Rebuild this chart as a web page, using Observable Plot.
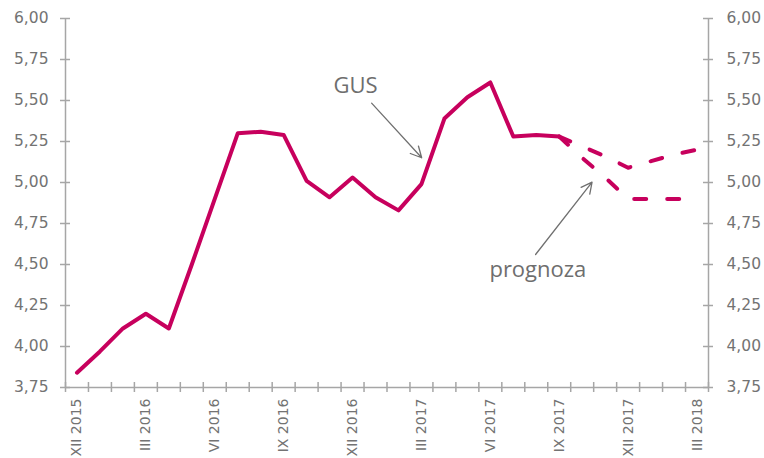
<!DOCTYPE html>
<html>
<head>
<meta charset="utf-8">
<script src="https://cdn.jsdelivr.net/npm/d3@7"></script>
<script src="https://cdn.jsdelivr.net/npm/@observablehq/plot@0.6"></script>
<style>
  html, body { margin: 0; padding: 0; background: #ffffff; }
</style>
</head>
<body>
<div id="chart"></div>
<script>
// Month labels (Dec 2015 .. Mar 2018)
const months = [
  "XII 2015","I 2016","II 2016","III 2016","IV 2016","V 2016","VI 2016","VII 2016","VIII 2016","IX 2016",
  "X 2016","XI 2016","XII 2016","I 2017","II 2017","III 2017","IV 2017","V 2017","VI 2017","VII 2017",
  "VIII 2017","IX 2017","X 2017","XI 2017","XII 2017","I 2018","II 2018","III 2018"
];
// Labelled months (every third)
const labelMonths = ["XII 2015","III 2016","VI 2016","IX 2016","XII 2016","III 2017","VI 2017","IX 2017","XII 2017","III 2018"];

// GUS actual values, XII 2015 .. IX 2017
const gusValues = [3.84,3.97,4.11,4.20,4.11,4.50,4.90,5.30,5.31,5.29,5.01,4.91,5.03,4.91,4.83,4.99,5.39,5.52,5.61,5.28,5.29,5.28];
// Forecasts, IX 2017 .. III 2018
const forecastMonths = ["IX 2017","X 2017","XI 2017","XII 2017","I 2018","II 2018","III 2018"];
const forecastHigh = [5.28,5.22,5.16,5.09,5.13,5.17,5.20];
const forecastLow  = [5.28,5.15,5.03,4.90,4.90,4.90,4.90];

// Y tick values
const yTicks = [3.75,4.00,4.25,4.50,4.75,5.00,5.25,5.50,5.75,6.00];

// Annotations (month index, value)
const gusLabel = {x: 12.13, y: 5.59, text: "GUS"};
const gusArrow = {x1: 12.83, y1: 5.484, x2: 15.01, y2: 5.151};
const progLabel = {x: 20.07, y: 4.465, text: "prognoza"};
const progArrow = {x1: 19.97, y1: 4.561, x2: 22.43, y2: 5.002};

const idx = m => months.indexOf(m);
const gus = gusValues.map((v, i) => ({i, v}));
const high = forecastHigh.map((v, k) => ({i: idx(forecastMonths[k]), v}));
const low = forecastLow.map((v, k) => ({i: idx(forecastMonths[k]), v}));
const boundaries = d3.range(months.length + 1).map(k => k - 0.5);
const xMin = -0.5, xMax = months.length - 0.5;
const yMin = 3.75, yMax = 6.0;

const width = 764, height = 458;
const marginLeft = 65, marginRight = 56, marginTop = 18, marginBottom = 71;
const pxX = (xMax - xMin) / (width - marginLeft - marginRight);
const pxY = (yMax - yMin) / (height - marginTop - marginBottom);
const tick = 5;

const axisColor = "#a6a6a6";
const textColor = "#737373";
const lineColor = "#c7005d";
const fmt = d => d.toFixed(2).replace(".", ",");

const chart = Plot.plot({
  width, height, marginLeft, marginRight, marginTop, marginBottom,
  x: {domain: [xMin, xMax]},
  y: {domain: [yMin, yMax]},
  style: {fontFamily: "DejaVu Sans", background: "#ffffff", color: textColor},
  marks: [
    Plot.axisY({anchor: "left", ticks: yTicks, tickSize: 0, tickPadding: 17, tickFormat: fmt, fontSize: 15.5, fill: textColor, label: null}),
    Plot.axisY({anchor: "right", ticks: yTicks, tickSize: 0, tickPadding: 18, tickFormat: fmt, fontSize: 15.5, fill: textColor, label: null}),
    Plot.axisX({ticks: labelMonths.map(idx), tickFormat: i => months[i], tickRotate: -90, tickSize: 0, tickPadding: 11, fontSize: 14, fill: textColor, label: null}),
    Plot.ruleX([xMin, xMax], {stroke: axisColor, strokeWidth: 1.5}),
    Plot.ruleY([yMin], {stroke: axisColor, strokeWidth: 1.5}),
    Plot.ruleY(yTicks, {x1: xMin - tick * pxX, x2: xMin + tick * pxX, stroke: axisColor, strokeWidth: 1.5}),
    Plot.ruleY(yTicks, {x1: xMax - tick * pxX, x2: xMax + tick * pxX, stroke: axisColor, strokeWidth: 1.5}),
    Plot.ruleX(boundaries, {y1: yMin - tick * pxY, y2: yMin + tick * pxY, stroke: axisColor, strokeWidth: 1.5}),
    Plot.line(high, {x: "i", y: "v", stroke: lineColor, strokeWidth: 4, strokeDasharray: "12,21", strokeLinecap: "round", strokeLinejoin: "round"}),
    Plot.line(low, {x: "i", y: "v", stroke: lineColor, strokeWidth: 4, strokeDasharray: "12,21", strokeLinecap: "round", strokeLinejoin: "round"}),
    Plot.line(gus, {x: "i", y: "v", stroke: lineColor, strokeWidth: 4, strokeLinecap: "round", strokeLinejoin: "round"}),
    Plot.arrow([gusArrow, progArrow], {x1: "x1", y1: "y1", x2: "x2", y2: "y2", stroke: "#707070", strokeWidth: 1.3, headLength: 14, headAngle: 54}),
    Plot.text([gusLabel, progLabel], {x: "x", y: "y", text: "text", fontFamily: "Open Sans", fontSize: 22, fill: "#6e6e6e"})
  ]
});
document.getElementById("chart").appendChild(chart);
</script>
</body>
</html>
